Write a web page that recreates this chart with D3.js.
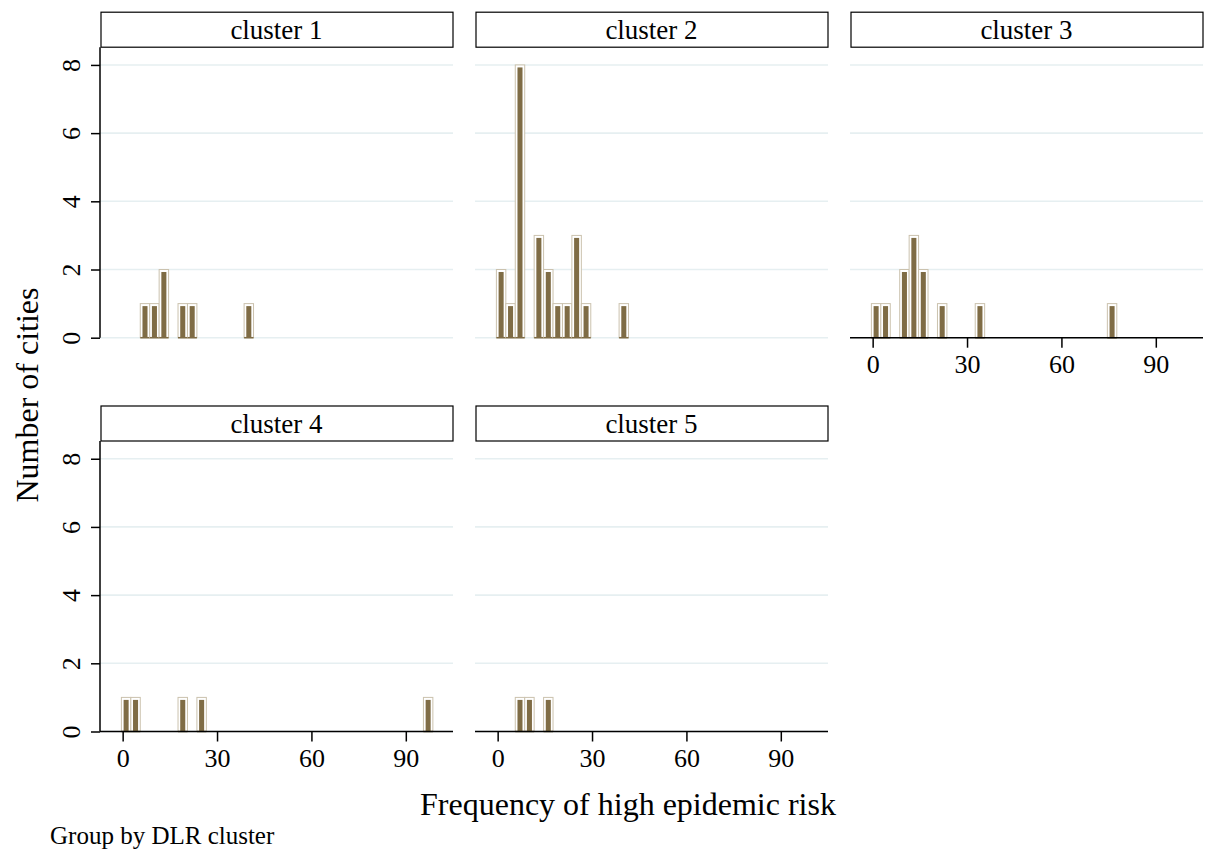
<!DOCTYPE html>
<html>
<head>
<meta charset="utf-8">
<script src="https://cdn.jsdelivr.net/npm/d3@7"></script>
<style>
body{margin:0;background:#fff;}
text{font-family:"Liberation Serif","Times New Roman",serif;fill:#000;}
</style>
</head>
<body>
<svg id="svg0" width="1208" height="854"></svg>
<script>
// histogram bins: left edge of each bin (width 3) and the count in it
var binWidth = 3;
var c1Lefts = [5.6, 8.6, 11.6, 17.6, 20.6, 38.6];
var c1Counts = [1, 1, 2, 1, 1, 1];
var c2Lefts = [-0.4, 2.6, 5.6, 11.6, 14.6, 17.6, 20.6, 23.6, 26.6, 38.6];
var c2Counts = [2, 1, 8, 3, 2, 1, 1, 3, 1, 1];
var c3Lefts = [-0.4, 2.6, 8.6, 11.6, 14.6, 20.6, 32.6, 74.6];
var c3Counts = [1, 1, 2, 3, 2, 1, 1, 1];
var c4Lefts = [-0.4, 2.6, 17.6, 23.6, 95.6];
var c4Counts = [1, 1, 1, 1, 1];
var c5Lefts = [5.6, 8.6, 14.6];
var c5Counts = [1, 1, 1];
var clusters = ["cluster 1", "cluster 2", "cluster 3", "cluster 4", "cluster 5"];
var xTicks = [0, 30, 60, 90];
var yTicks = [0, 2, 4, 6, 8];

var lefts = [c1Lefts, c2Lefts, c3Lefts, c4Lefts, c5Lefts];
var counts = [c1Counts, c2Counts, c3Counts, c4Counts, c5Counts];

var svg = d3.select("#svg0");
var pw = 353, ph = 290.5;
var colX = [100, 475, 850];
var rowY = [47.2, 441];   // top of plot areas (below strip)

var x = d3.scaleLinear().domain([-7.2, 105]).range([0, pw]);
var y = d3.scaleLinear().domain([0, 8.52]).range([ph, 0]);

for (var i = 0; i < clusters.length; i++) {
  var col = i % 3, row = Math.floor(i / 3);
  var g = svg.append("g").attr("transform", "translate(" + colX[col] + "," + rowY[row] + ")");

  // strip
  g.append("rect").attr("x", 1).attr("y", -35).attr("width", pw - 1).attr("height", 35)
    .style("fill", "white").style("stroke", "#000").style("stroke-width", 1.2);
  g.append("text").attr("x", pw / 2).attr("y", -8.5).attr("text-anchor", "middle")
    .style("font-size", "27px").text(clusters[i]);

  // grid
  g.selectAll(".grid").data(yTicks).enter().append("line")
    .attr("x1", 0).attr("x2", pw)
    .attr("y1", function(d){ return y(d); }).attr("y2", function(d){ return y(d); })
    .style("stroke", "#e6eff1").style("stroke-width", 1.6);

  // bars
  var bins = lefts[i].map(function(l, k){ return {x0: l, n: counts[i][k]}; });
  var bg = g.selectAll(".bar").data(bins).enter().append("g");
  bg.append("rect")
    .attr("x", function(d){ return x(d.x0); })
    .attr("y", function(d){ return y(d.n); })
    .attr("width", function(d){ return x(d.x0 + binWidth) - x(d.x0); })
    .attr("height", function(d){ return y(0) - y(d.n); })
    .style("fill", "white").style("stroke", "#cbc2ae").style("stroke-width", 1);
  bg.append("rect")
    .attr("x", function(d){ return x(d.x0) + 2.2; })
    .attr("y", function(d){ return y(d.n) + 2.5; })
    .attr("width", function(d){ return x(d.x0 + binWidth) - x(d.x0) - 4.4; })
    .attr("height", function(d){ return y(0) - y(d.n) - 2.5; })
    .style("fill", "#7f6c45");
  bg.append("line")
    .attr("x1", function(d){ return x(d.x0); })
    .attr("x2", function(d){ return x(d.x0 + binWidth); })
    .attr("y1", y(0)).attr("y2", y(0))
    .style("stroke", "#7f6c45").style("stroke-width", 1.5);

  // y axis on first column
  if (col == 0) {
    var ya = g.append("g").call(d3.axisLeft(y).tickValues(yTicks).tickSize(9).tickFormat(d3.format("d")));
    ya.select(".domain").attr("d", "M0," + ph + "V0").style("stroke-width", 1.5);
    ya.selectAll(".tick line").style("stroke-width", 1.5);
    ya.selectAll(".tick text").attr("transform", "rotate(-90)").attr("x", 0).attr("y", -20)
      .attr("dy", 0).attr("text-anchor", "middle").style("font-size", "26px")
      .style("font-family", "Liberation Serif");
  }
  // x axis on panels with nothing below
  if (row == 1 || i == 2) {
    var xa = g.append("g").attr("transform", "translate(0," + ph + ")")
      .call(d3.axisBottom(x).tickValues(xTicks).tickSize(10).tickFormat(d3.format("d")));
    xa.select(".domain").attr("d", "M0,0H" + pw).style("stroke-width", 1.5);
    xa.selectAll(".tick line").style("stroke-width", 1.5);
    xa.selectAll(".tick text").attr("y", 35).attr("dy", 0).style("font-size", "26px")
      .style("font-family", "Liberation Serif");
  }
}

svg.append("text").attr("x", 628).attr("y", 815).attr("text-anchor", "middle")
  .style("font-size", "32px").text("Frequency of high epidemic risk");
svg.append("text").attr("transform", "translate(38,395) rotate(-90)").attr("text-anchor", "middle")
  .style("font-size", "32px").text("Number of cities");
svg.append("text").attr("x", 50).attr("y", 844)
  .style("font-size", "25px").text("Group by DLR cluster");
</script>
</body>
</html>
